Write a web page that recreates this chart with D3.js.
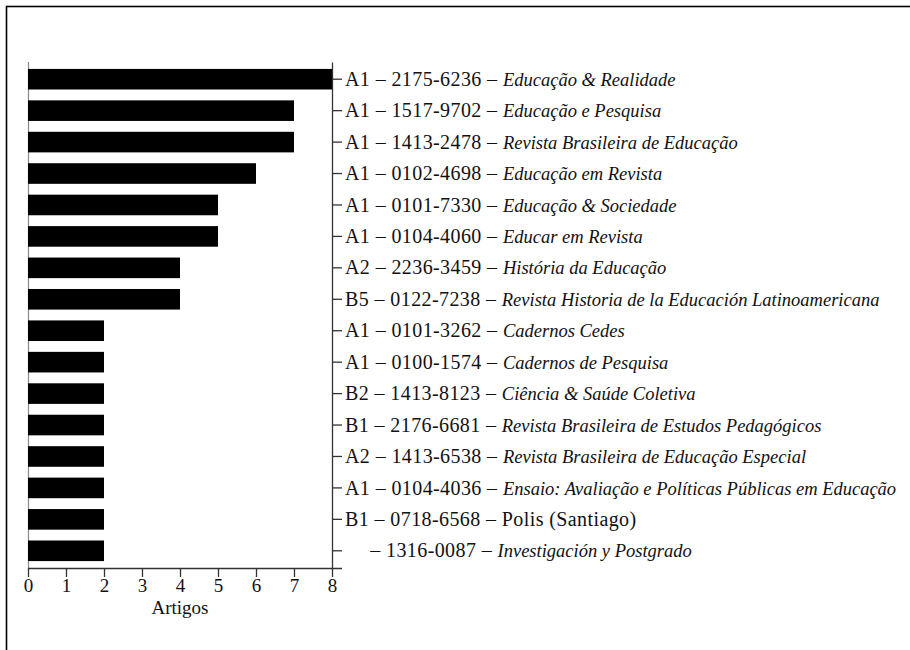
<!DOCTYPE html>
<html>
<head>
<meta charset="utf-8">
<script src="https://cdn.jsdelivr.net/npm/d3@7"></script>
<style>
  body { margin: 0; background: #fff; }
  svg { display: block; }
</style>
</head>
<body>
<svg id="chart" width="910" height="650"></svg>
<script>
//////////////////////////////////////////////// DATA ////////////////////////////////////////////////
var qualis = ["A1", "A1", "A1", "A1", "A1", "A1", "A2", "B5", "A1", "A1", "B2", "B1", "A2", "A1", "B1", ""];
var issn = ["2175-6236", "1517-9702", "1413-2478", "0102-4698", "0101-7330", "0104-4060", "2236-3459", "0122-7238",
            "0101-3262", "0100-1574", "1413-8123", "2176-6681", "1413-6538", "0104-4036", "0718-6568", "1316-0087"];
var journals = ["Educação & Realidade", "Educação e Pesquisa", "Revista Brasileira de Educação", "Educação em Revista",
                "Educação & Sociedade", "Educar em Revista", "História da Educação", "Revista Historia de la Educación Latinoamericana",
                "Cadernos Cedes", "Cadernos de Pesquisa", "Ciência & Saúde Coletiva", "Revista Brasileira de Estudos Pedagógicos",
                "Revista Brasileira de Educação Especial", "Ensaio: Avaliação e Políticas Públicas em Educação",
                "Polis (Santiago)", "Investigación y Postgrado"];
var italicTitle = [true, true, true, true, true, true, true, true, true, true, true, true, true, true, false, true];
var artigos = [8, 7, 7, 6, 5, 5, 4, 4, 2, 2, 2, 2, 2, 2, 2, 2];
var xTicks = [0, 1, 2, 3, 4, 5, 6, 7, 8];
var xTitle = "Artigos";

//////////////////////////////////////////////// SCRIPT ////////////////////////////////////////////////
var font = "'Liberation Serif', 'DejaVu Serif', serif";
var svg = d3.select("#chart").attr("font-family", font);
var margin = {left: 28, top: 62, right: 578, bottom: 82};
var w = 910, h = 650;

// frame round the figure
svg.append("rect")
  .attr("x", 6.5).attr("y", 6.5)
  .attr("width", w + 20).attr("height", h + 20)
  .attr("fill", "none").attr("stroke", "#000").attr("stroke-width", 1.6);

var idx = d3.range(artigos.length);

var x = d3.scaleLinear().domain([0, 8]).range([margin.left, w - margin.right]);
var y = d3.scaleBand().domain(idx).range([margin.top, h - margin.bottom])
  .paddingInner(0.345).paddingOuter(0.22);

// left gray baseline
svg.append("line")
  .attr("x1", x(0) + 0.5).attr("x2", x(0) + 0.5)
  .attr("y1", y.range()[0]).attr("y2", y.range()[1])
  .attr("stroke", "#8a8a8a").attr("stroke-width", 1.2);

// bars
svg.selectAll("rect.bar")
  .data(idx)
  .enter()
  .append("rect")
  .attr("class", "bar")
  .attr("x", x(0))
  .attr("y", function(i) { return y(i); })
  .attr("width", function(i) { return x(artigos[i]) - x(0); })
  .attr("height", y.bandwidth())
  .attr("fill", "#000");

// bottom axis
var tickLen = 9;
var gx = svg.append("g")
  .attr("transform", "translate(0," + y.range()[1] + ")")
  .call(d3.axisBottom(x).tickValues(xTicks).tickFormat(d3.format("d")).tickSize(tickLen).tickSizeOuter(0).tickPadding(2))
  .attr("font-family", font).attr("font-size", 19);
gx.select(".domain").attr("d", "M" + x.range()[0] + ",0.5H" + (x.range()[1] + 10));
gx.selectAll("line, path").attr("stroke", "#333").attr("stroke-width", 1.3);
gx.selectAll("text").attr("fill", "#111");

svg.append("text")
  .attr("x", (x.range()[0] + x.range()[1]) / 2)
  .attr("y", y.range()[1] + 46)
  .attr("text-anchor", "middle")
  .attr("font-size", 19)
  .attr("fill", "#111")
  .text(xTitle);

// right axis with journal labels
var gy = svg.append("g")
  .attr("transform", "translate(" + x(8) + ",0)")
  .call(d3.axisRight(y).tickSize(10).tickSizeOuter(0).tickPadding(3).tickFormat(""))
  .attr("font-family", font).attr("font-size", 20);
gy.selectAll("line, path").attr("stroke", "#333").attr("stroke-width", 1.3);

var spacing = 0.4;

// width of the qualis column for the blank entry
var probe = svg.append("text").attr("font-size", 20).attr("letter-spacing", spacing).text("A1 ");
var qualisW = probe.node().getComputedTextLength();
probe.remove();

var labels = gy.selectAll(".tick")
  .append("text")
  .attr("x", 13)
  .attr("dy", "0.33em")
  .attr("fill", "#111")
  .attr("text-anchor", "start");

labels.each(function(i) {
  var t = d3.select(this);
  var head = t.append("tspan").attr("letter-spacing", spacing);
  if (qualis[i] != "") {
    head.text(qualis[i] + " – " + issn[i] + " – ");
  } else {
    head.attr("dx", qualisW).text("– " + issn[i] + " – ");
  }
  t.append("tspan")
    .attr("font-style", italicTitle[i] ? "italic" : "normal")
    .attr("font-size", italicTitle[i] ? 18.5 : 20)
    .attr("letter-spacing", italicTitle[i] ? 0 : spacing)
    .text(journals[i]);
});
</script>
</body>
</html>
